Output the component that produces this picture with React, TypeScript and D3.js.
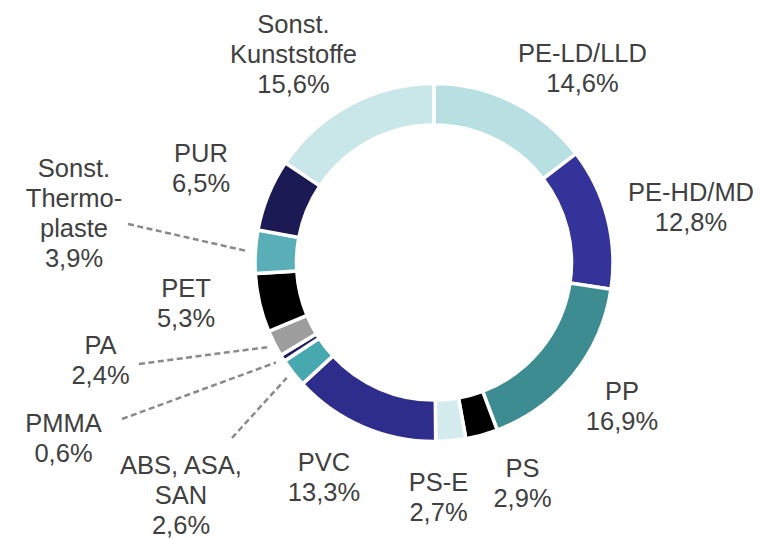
import * as d3 from "d3";

// Kunststoff-Anteile in %, im Uhrzeigersinn ab 12 Uhr
const categories = [
  "PE-LD/LLD", "PE-HD/MD", "PP", "PS", "PS-E", "PVC", "ABS, ASA, SAN",
  "PMMA", "PA", "PET", "Sonst. Thermoplaste", "PUR", "Sonst. Kunststoffe",
];
const shares = [14.6, 12.8, 16.9, 2.9, 2.7, 13.3, 2.6, 0.6, 2.4, 5.3, 3.9, 6.5, 15.6];
const labelLines = [
  ["PE-LD/LLD"], ["PE-HD/MD"], ["PP"], ["PS"], ["PS-E"], ["PVC"], ["ABS, ASA,", "SAN"],
  ["PMMA"], ["PA"], ["PET"], ["Sonst.", "Thermo-", "plaste"], ["PUR"], ["Sonst.", "Kunststoffe"],
];
const colors = [
  "#b8dfe2", "#343399", "#3d8c92", "#000000", "#d5ecee", "#2e2d8b", "#47a8b0",
  "#1d1b5e", "#9d9d9d", "#000000", "#5aaeb7", "#1c1a54", "#c9e6e9",
];

// label placement: [center x, first baseline], optional leader end
const labelPos: [number, number][] = [
  [582.5, 61.5], [691, 200.5], [622, 399.5], [522.5, 477], [438.5, 490.5], [324, 471],
  [181, 473.5], [63.5, 431.5], [100.5, 353.5], [186, 297], [74, 176.5], [201, 161.5], [293.5, 32.5],
];
const leaderEnd: ([number, number] | null)[] = [
  null, null, null, null, null, null, [232, 438], [122, 419], [139, 364], null, [128, 224], null, null,
];

const W = 767, H = 539;
const cx = 434, cy = 262.6, R = 179, r0 = 137.5, lineH = 30.3;

export default function App() {
  const pie = d3.pie<number>().sort(null).value((d) => d);
  const arcs = pie(shares);
  const arc = d3.arc<d3.PieArcDatum<number>>().innerRadius(r0).outerRadius(R);
  const fmt = (v: number) => d3.format(".1f")(v).replace(".", ",") + "%";

  return (
    <svg width={W} height={H} style={{ position: "absolute", left: 0, top: 0, background: "#fff" }}
      fontFamily="'Liberation Sans', Arial, sans-serif">
      <g transform={`translate(${cx},${cy})`}>
        {arcs.map((a, i) => (
          <path key={categories[i]} d={arc(a)!} fill={colors[i]} stroke="#fff" strokeWidth={3.5} strokeLinejoin="miter" />
        ))}
      </g>
      {arcs.map((a, i) => {
        const end = leaderEnd[i];
        if (!end) return null;
        const mid = (a.startAngle + a.endAngle) / 2;
        const rr = R + 8;
        return (
          <line key={"l" + i} x1={end[0]} y1={end[1]} x2={cx + rr * Math.sin(mid)} y2={cy - rr * Math.cos(mid)}
            stroke="#8a8a8a" strokeWidth={2.5} strokeDasharray="6 3.5" />
        );
      })}
      {categories.map((c, i) => {
        const lines = [...labelLines[i], fmt(shares[i])];
        const [x, y] = labelPos[i];
        return (
          <text key={"t" + c} x={x} y={y} textAnchor="middle" fontSize={25.5} fill="#404040">
            {lines.map((t, j) => (
              <tspan key={j} x={x} y={y + j * lineH}>{t}</tspan>
            ))}
          </text>
        );
      })}
    </svg>
  );
}
